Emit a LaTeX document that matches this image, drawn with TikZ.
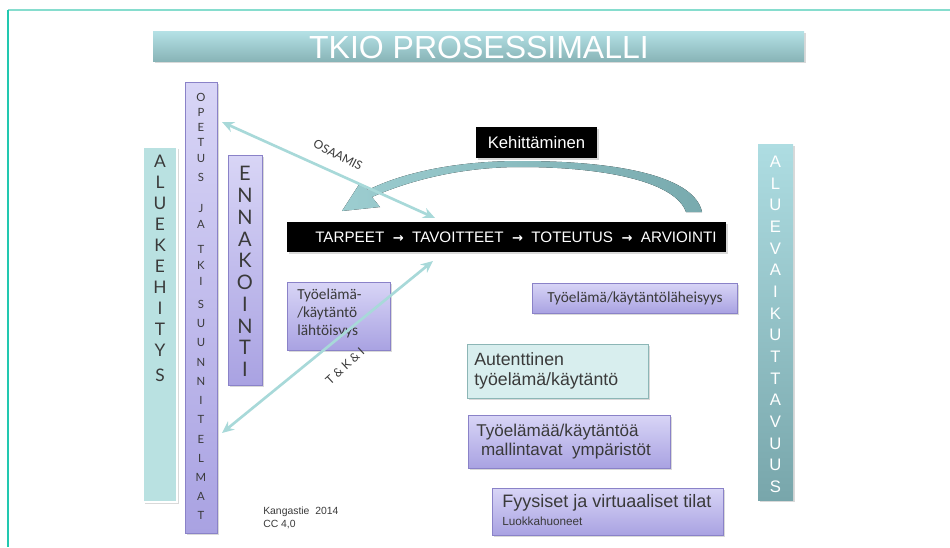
\documentclass[tikz,border=0pt]{standalone}
\usepackage{fontspec}
\setmainfont{Liberation Sans}
\newfontfamily\gillfont{Lato}
\newfontfamily\calfont{Carlito}
\newfontfamily\arrfont{DejaVu Sans}
\usetikzlibrary{shadows,arrows.meta,fit}
\definecolor{frameA}{HTML}{86DDCE}
\definecolor{frameB}{HTML}{22C8B0}
\definecolor{titleTop}{HTML}{B5E1E6}
\definecolor{titleBot}{HTML}{88B4B7}
\definecolor{lavTop}{HTML}{D8D5F6}
\definecolor{lavBot}{HTML}{A9A2E2}
\definecolor{lavLine}{HTML}{8A82C8}
\definecolor{tealFill}{HTML}{B9E1E1}
\definecolor{tealTop}{HTML}{AEDDE2}
\definecolor{tealBot}{HTML}{78A6AB}
\definecolor{arrowTeal}{HTML}{A8D9D9}
\definecolor{curveL}{HTML}{9CCDD0}
\definecolor{curveR}{HTML}{78AAAE}
\definecolor{autFill}{HTML}{D8EEEE}
\definecolor{autLine}{HTML}{8CB6B6}
\definecolor{txt}{HTML}{3A3A3A}
\newcommand{\parr}{{\arrfont\bfseries\fontsize{9.8}{11}\selectfont →}}
\begin{document}
\begin{tikzpicture}[x=0.75pt,y=-0.75pt,
  box/.style={inner sep=0pt, outer sep=0pt},
  shad/.style={drop shadow={shadow xshift=1.2pt,shadow yshift=-1.2pt,opacity=0.3}},
  lav/.style={box, draw=lavLine, line width=0.7pt, top color=lavTop, bottom color=lavBot, shad},
  blackbox/.style={box, fill=black, shad},
  conn/.style={draw=arrowTeal, line width=2pt, {Stealth[length=9pt,width=8pt]}-{Stealth[length=9pt,width=8pt]}},
  oplet/.style={font=\gillfont\fontsize{8.5}{9}\selectfont, text=txt, inner sep=0pt},
  alulet/.style={font=\gillfont\fontsize{13}{14}\selectfont, text=txt, inner sep=0pt},
  ennlet/.style={font=\gillfont\fontsize{15}{16}\selectfont, text=txt, inner sep=0pt},
  vaikut/.style={font=\fontsize{12.5}{13}\selectfont, text=white, inner sep=0pt},
  lbl/.style={font=\gillfont\fontsize{9}{10}\selectfont, text=txt, inner sep=0pt}
]
\useasboundingbox (0,0) rectangle (950,547);
% frame
\draw[frameA, line width=1.5pt] (8,10) -- (950,10);
\draw[frameB, line width=1.5pt] (8,10) -- (8,547);

% title
\node[box, top color=titleTop, bottom color=titleBot, shad, fit={(153,31)(804,61)}] (titlebar) {};
\node[text=white, font=\fontsize{24}{26}\selectfont, inner sep=0pt] (title) at (479,47) {TKIO PROSESSIMALLI};

% ALUEKEHITYS
\node[box, fill=tealFill, draw=white, line width=2pt, shad, fit={(143,147)(177,502)}] (alue) {};
\foreach \ch/\yy [count=\k] in {A/161,L/182,U/203,E/224,K/245,E/266,H/287,I/308,T/329,Y/350,S/375}
  \node[alulet] (al\k) at (160,\yy) {\ch};

% OPETUS column
\node[lav, fit={(185,82)(217,533)}] (opetus) {};
\foreach \ch/\yy [count=\k] in {O/97,P/112,E/127,T/142,U/158,S/177,J/208,A/224,T/249,K/265,I/281,S/304,U/323,U/342,N/362,N/381,I/400,T/419,E/439,L/458,M/477,A/496,T/515}
  \node[oplet] (op\k) at (201,\yy) {\ch};

% ENNAKOINTI
\node[lav, fit={(228,155)(262,385)}] (enna) {};
\foreach \ch/\yy [count=\k] in {E/173,N/195,N/217,A/239,K/260,O/282,I/304,N/326,T/347,I/369}
  \node[ennlet] (en\k) at (245,\yy) {\ch};

% ALUEVAIKUTTAVUUS
\node[box, top color=tealTop, bottom color=tealBot, shad, fit={(758,144)(793,500)}] (vaik) {};
\foreach \ch/\yy [count=\k] in {A/162,L/184,U/205,E/227,V/249,A/270,I/292,K/314,U/335,T/357,T/379,A/400,V/422,U/444,U/465,S/487}
  \node[vaikut] (va\k) at (775.5,\yy) {\ch};

% curved arrow (Kehittaminen loop)
\fill[left color=curveL, right color=curveR]
  (702,212) .. controls (695,178) and (625,161) .. (520,161)
  .. controls (455,161) and (402,173) .. (368,190)
  -- (360,183) -- (342,211) -- (380,207) -- (372,197)
  .. controls (408,181) and (460,167) .. (520,167)
  .. controls (610,167) and (676,183) .. (686,212) -- cycle;

% black process bar
\node[blackbox, fit={(287,222)(726,252)}] (bar) {};
\node[text=white, font=\fontsize{11.4}{12}\selectfont, inner sep=0pt] (proc) at (516,237.5)
  {TARPEET\ \ \parr\ \ TAVOITTEET\ \ \parr\ \ TOTEUTUS\ \ \parr\ \ ARVIOINTI};

% Kehittaminen
\node[blackbox, fit={(476,127)(597,158)}] (keh) {};
\node[text=white, font=\fontsize{12.5}{14}\selectfont, inner sep=0pt] (kehtxt) at (536.5,142.5) {Kehittäminen};

% OSAAMIS arrow
\coordinate (osL) at (222,122);
\coordinate (osR) at (435,218);
\draw[conn] (osL) -- (osR);
\node[lbl, rotate=-27] (osaamis) at (338,155) {OSAAMIS};

% T&K&I arrow
\coordinate (tkL) at (222,433);
\coordinate (tkR) at (433,261);

% boxes
\node[lav, fit={(287,282)(390,350)}] (lahto) {};
\node[anchor=north west, align=left, text=txt, font=\calfont\fontsize{11.5}{13.5}\selectfont, inner sep=0pt] (lahtotxt) at (297,289)
  {Työelämä-\\/käytäntö\\lähtöisyys};
\draw[conn] (tkL) -- (tkR);
\node[lbl, rotate=43] (tki) at (345,366) {T \& K \& I};

\node[lav, fit={(532,283)(737,313)}] (lah) {};
\node[text=txt, font=\calfont\fontsize{11.5}{13}\selectfont, inner sep=0pt] (lahtxt) at (635,298) {Työelämä/käytäntöläheisyys};

\node[box, fill=autFill, draw=autLine, line width=0.7pt, shad, fit={(467,344)(648,398)}] (aut) {};
\node[anchor=west, align=left, text=txt, font=\fontsize{13.3}{14.5}\selectfont, inner sep=0pt] (auttxt) at (474,371)
  {Autenttinen\\työelämä/käytäntö};

\node[lav, fit={(468,415)(670,468)}] (mall) {};
\node[anchor=west, align=left, text=txt, font=\fontsize{12.8}{14.5}\selectfont, inner sep=0pt] (malltxt) at (476,441.5)
  {Työelämää/käytäntöä\\\ mallintavat\ \ ympäristöt};

\node[lav, fit={(492,488)(723,535)}] (fyys) {};
\node[anchor=west, text=txt, font=\fontsize{13.5}{15}\selectfont, inner sep=0pt] (fyystxt) at (502,503) {Fyysiset ja virtuaaliset tilat};
\node[anchor=west, text=txt, font=\fontsize{8.8}{10}\selectfont, inner sep=0pt] (luokka) at (502,521) {Luokkahuoneet};

% credit
\node[anchor=west, align=left, text=txt, font=\fontsize{7.8}{9.6}\selectfont, inner sep=0pt] (credit) at (263,518)
  {Kangastie\ \ 2014\\CC 4,0};
\end{tikzpicture}
\end{document}
